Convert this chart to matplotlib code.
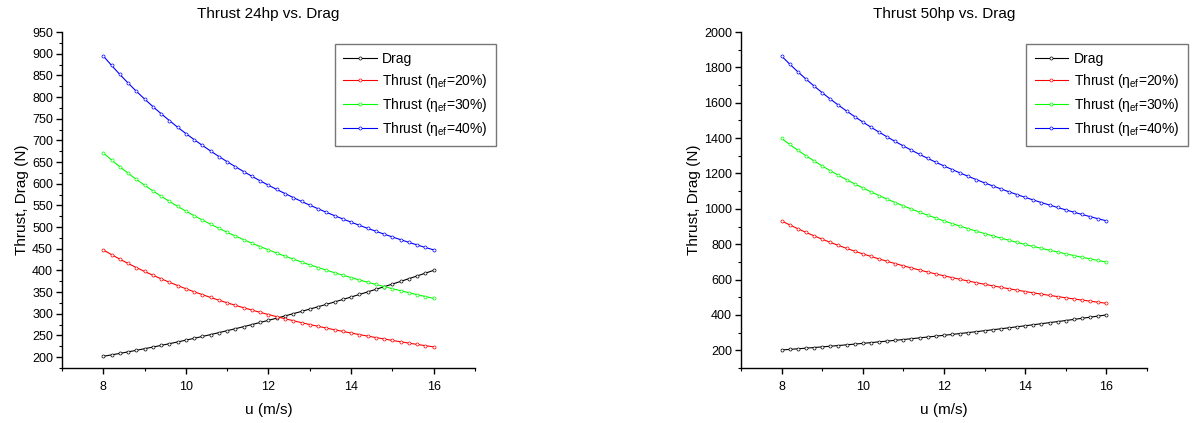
import matplotlib
matplotlib.use("Agg")
import matplotlib.pyplot as plt
from matplotlib.ticker import MultipleLocator

plt.rcParams['font.family'] = ['Liberation Sans', 'DejaVu Sans']
plt.rcParams['mathtext.fontset'] = 'custom'
plt.rcParams['mathtext.rm'] = 'Liberation Sans'
plt.rcParams['mathtext.it'] = 'Liberation Sans'
plt.rcParams['mathtext.bf'] = 'Liberation Sans:bold'

u = [8.0, 8.2, 8.4, 8.6, 8.8, 9.0, 9.2, 9.4, 9.6, 9.8,
     10.0, 10.2, 10.4, 10.6, 10.8, 11.0, 11.2, 11.4, 11.6, 11.8,
     12.0, 12.2, 12.4, 12.6, 12.8, 13.0, 13.2, 13.4, 13.6, 13.8,
     14.0, 14.2, 14.4, 14.6, 14.8, 15.0, 15.2, 15.4, 15.6, 15.8, 16.0]

drag = [202.0, 205.3, 208.7, 212.2, 215.8, 219.5, 223.3, 227.1, 231.1, 235.1,
        239.3, 243.5, 247.8, 252.1, 256.6, 261.1, 265.7, 270.4, 275.2, 280.1,
        285.0, 290.0, 295.1, 300.3, 305.6, 310.9, 316.3, 321.8, 327.4, 333.1,
        338.8, 344.6, 350.5, 356.5, 362.5, 368.6, 374.8, 381.1, 387.4, 393.8, 400.3]

# 24 hp
t20_24 = [447.4, 436.5, 426.1, 416.2, 406.7, 397.7, 389.1, 380.8, 372.9, 365.2,
          357.9, 350.9, 344.2, 337.7, 331.4, 325.4, 319.6, 314.0, 308.6, 303.3,
          298.3, 293.4, 288.7, 284.1, 279.6, 275.3, 271.2, 267.1, 263.2, 259.4,
          255.7, 252.1, 248.6, 245.2, 241.9, 238.6, 235.5, 232.4, 229.4, 226.5, 223.7]
t30_24 = [671.1, 654.8, 639.2, 624.3, 610.1, 596.6, 583.7, 571.2, 559.4, 547.8,
          536.9, 526.4, 516.3, 506.6, 497.1, 488.1, 479.4, 471.0, 462.9, 455.0,
          447.5, 440.1, 433.1, 426.2, 419.4, 413.0, 406.8, 400.7, 394.8, 389.1,
          383.6, 378.2, 372.9, 367.8, 362.9, 357.9, 353.3, 348.6, 344.1, 339.8, 335.6]
t40_24 = [894.8, 873.0, 852.2, 832.4, 813.4, 795.4, 778.2, 761.6, 745.8, 730.4,
          715.8, 701.8, 688.4, 675.4, 662.8, 650.8, 639.2, 628.0, 617.2, 606.6,
          596.6, 586.8, 577.4, 568.2, 559.2, 550.6, 542.4, 534.2, 526.4, 518.8,
          511.4, 504.2, 497.2, 490.4, 483.8, 477.2, 471.0, 464.8, 458.8, 453.0, 447.4]

# 50 hp
t20_50 = [932.1, 909.4, 887.7, 867.1, 847.4, 828.6, 810.5, 793.3, 776.8, 760.9,
          745.7, 731.1, 717.0, 703.5, 690.5, 677.9, 665.8, 654.1, 642.8, 631.9,
          621.4, 611.2, 601.4, 591.8, 582.6, 573.6, 564.9, 556.5, 548.3, 540.4,
          532.6, 525.1, 517.8, 510.8, 503.9, 497.1, 490.6, 484.2, 478.0, 472.0, 466.1]
t30_50 = [1398.2, 1364.1, 1331.6, 1300.7, 1271.1, 1242.9, 1215.8, 1190.0, 1165.2, 1141.4,
          1118.6, 1096.7, 1075.5, 1055.3, 1035.8, 1016.9, 998.7, 981.2, 964.2, 947.9,
          932.1, 916.8, 902.1, 887.7, 873.9, 860.4, 847.4, 834.8, 822.5, 810.6,
          798.9, 787.7, 776.7, 766.2, 755.9, 745.7, 735.9, 726.3, 717.0, 708.0, 699.2]
t40_50 = [1864.2, 1818.8, 1775.4, 1734.2, 1694.8, 1657.2, 1621.0, 1586.6, 1553.6, 1521.8,
          1491.4, 1462.2, 1434.0, 1407.0, 1381.0, 1355.8, 1331.6, 1308.2, 1285.6, 1263.8,
          1242.8, 1222.4, 1202.8, 1183.6, 1165.2, 1147.2, 1129.8, 1113.0, 1096.6, 1080.8,
          1065.2, 1050.2, 1035.6, 1021.6, 1007.8, 994.2, 981.2, 968.4, 956.0, 944.0, 932.2]

labels = ['Drag', r'Thrust ($\eta_{\mathrm{ef}}$=20%)',
          r'Thrust ($\eta_{\mathrm{ef}}$=30%)', r'Thrust ($\eta_{\mathrm{ef}}$=40%)']
colors = ['#000000', '#ff0000', '#00ff00', '#0000ff']

fig = plt.figure(figsize=(11.92, 4.23), dpi=100)

def make_panel(rect, series, title, ylim, ymajor, yminor, legend_xy):
    ax = fig.add_axes(rect)
    for s, c, lab in zip(series, colors, labels):
        ax.plot(u, s, color=c, lw=0.8, marker='o', ms=2.2, mfc='white',
                mec=c, mew=0.5, label=lab)
    ax.set_xlim(7, 17)
    ax.set_ylim(*ylim)
    ax.xaxis.set_major_locator(MultipleLocator(2))
    ax.xaxis.set_minor_locator(MultipleLocator(1))
    ax.yaxis.set_major_locator(MultipleLocator(ymajor))
    ax.yaxis.set_minor_locator(MultipleLocator(yminor))
    for sp in ['top', 'right']:
        ax.spines[sp].set_visible(False)
    for sp in ['left', 'bottom']:
        ax.spines[sp].set_linewidth(1.0)
    ax.tick_params(which='major', direction='out', length=4.5, width=1.0,
                   labelsize=9, pad=2)
    ax.tick_params(which='minor', direction='out', length=2.5, width=0.8)
    ax.tick_params(axis='x', which='major', pad=5)
    ax.set_xlabel('u (m/s)', fontsize=11, labelpad=7)
    ax.set_ylabel('Thrust, Drag (N)', fontsize=11, labelpad=2)
    ax.set_title(title, fontsize=11, pad=10)
    leg = ax.legend(loc='upper left', bbox_to_anchor=legend_xy,
                    bbox_transform=fig.transFigure, fontsize=10,
                    frameon=True, fancybox=False, edgecolor='#555555',
                    handlelength=2.4, labelspacing=0.42, borderpad=0.6,
                    handletextpad=0.4, borderaxespad=0)
    leg.get_frame().set_linewidth(1.0)
    return ax

make_panel([0.052, 0.130, 0.3465, 0.7943],
           [drag, t20_24, t30_24, t40_24], 'Thrust 24hp vs. Drag',
           (175, 950), 50, 25, (0.281, 0.896))
make_panel([0.6216, 0.130, 0.3406, 0.7943],
           [drag, t20_50, t30_50, t40_50], 'Thrust 50hp vs. Drag',
           (100, 2000), 200, 100, (0.861, 0.896))

fig.savefig('out.png', dpi=100)
